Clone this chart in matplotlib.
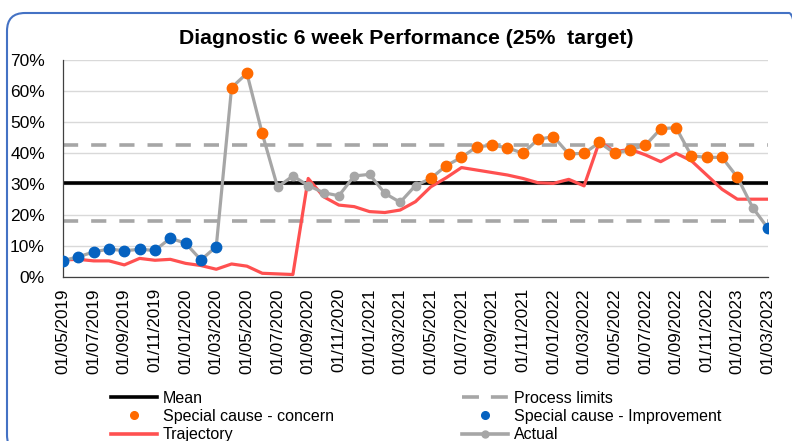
import matplotlib
matplotlib.use('Agg')
import matplotlib.pyplot as plt
import matplotlib.patches as mpatches
from matplotlib.transforms import IdentityTransform
from matplotlib.lines import Line2D
import numpy as np
import pandas as pd

plt.rcParams['font.family'] = ['Liberation Sans', 'DejaVu Sans']

# 月次データ (01/05/2019 - 01/03/2023)
months = pd.date_range('2019-05-01', periods=47, freq='MS')
month_labels = [d.strftime('%d/%m/%Y') for d in months]

# 実績 (%)
actual = [5.3, 6.5, 8.1, 9.0, 8.5, 8.9, 8.6, 12.5, 10.9, 5.5, 9.8, 61.1, 65.7, 46.3,
          29.0, 32.6, 29.5, 27.2, 26.2, 32.6, 33.1, 27.0, 24.1, 29.5, 31.8, 35.9,
          38.6, 42.0, 42.5, 41.7, 39.9, 44.4, 45.3, 39.7, 39.9, 43.4, 39.9, 41.0,
          42.5, 47.8, 48.2, 39.1, 38.6, 38.6, 32.2, 22.4, 15.7]

# 軌道 (%)
trajectory = [5.5, 5.7, 5.2, 5.2, 3.9, 6.0, 5.4, 5.7, 4.4, 3.7, 2.5, 4.2, 3.5, 1.2,
              1.0, 0.8, 31.8, 25.9, 23.2, 22.7, 21.1, 20.8, 21.6, 24.3, 29.1, 32.0,
              35.3, 34.5, 33.7, 32.9, 31.8, 30.4, 30.2, 31.5, 29.4, 43.7, 40.4, 41.2,
              39.4, 37.2, 39.9, 37.5, 32.9, 28.3, 25.1, 25.1, 25.1]

# 特別原因 ('imp' = improvement, 'con' = concern, '' = なし)
signal = ['imp'] * 11 + ['con'] * 3 + [''] * 10 + ['con'] * 21 + ['', 'imp']

mean_value = 30.2
upper_limit = 42.5
lower_limit = 18.1

GREY = '#A6A6A6'
ORANGE = '#FF6A00'
BLUE = '#0562C0'
RED = '#FF5050'

fig = plt.figure(figsize=(7.92, 4.41), dpi=100)
ax = fig.add_axes([63 / 792, 1 - 277 / 441, 705 / 792, 217 / 441])

x = np.arange(len(actual))
act = np.array(actual)
sig = np.array(signal)
concern = np.where(sig == 'con', act, np.nan)
improvement = np.where(sig == 'imp', act, np.nan)

# 平均・管理限界
ax.axhline(mean_value, color='black', lw=2.6, zorder=2)
for lim in (upper_limit, lower_limit):
    ax.axhline(lim, color=GREY, lw=2.6, dashes=(4.2, 3.6), zorder=2)

# 軌道
ax.plot(x, trajectory, color=RED, lw=2.3, zorder=3)
# 実績
ax.plot(x, actual, color=GREY, lw=2.3, marker='o', markersize=6, zorder=4)
# 特別原因
ax.plot(x, concern, ls='none', marker='o', markersize=7.5, color=ORANGE, zorder=5)
ax.plot(x, improvement, ls='none', marker='o', markersize=7.5, color=BLUE, zorder=5)

ax.set_xlim(0, len(actual) - 1)
ax.set_ylim(0, 70)
ax.set_yticks(range(0, 71, 10))
ax.set_yticklabels([f'{v}%' for v in range(0, 71, 10)])
ax.set_xticks(x[::2])
ax.set_xticklabels(month_labels[::2], rotation=90)
ax.tick_params(axis='y', length=0, pad=13, labelsize=12.5, colors='#000000')
ax.tick_params(axis='x', length=0, pad=8, labelsize=12.3)
ax.grid(axis='y', color='#D9D9D9', lw=1)
ax.set_axisbelow(True)
for s in ('top', 'right'):
    ax.spines[s].set_visible(False)
ax.spines['left'].set_color('#404040')
ax.spines['bottom'].set_color('#404040')
ax.spines['left'].set_linewidth(0.9)
ax.spines['bottom'].set_linewidth(0.9)

# タイトル
fig.text(406 / 792, 1 - 39 / 441, 'Diagnostic 6 week Performance (25%  target)',
         ha='center', va='center', fontsize=15.3, fontweight='bold')

# 凡例
handles = [
    Line2D([], [], color='black', lw=2.6),
    Line2D([], [], ls='none', marker='o', markersize=5.5, color=ORANGE),
    Line2D([], [], color=RED, lw=2.6),
    Line2D([], [], color=GREY, lw=2.6, dashes=(4.7, 3.3)),
    Line2D([], [], ls='none', marker='o', markersize=5.5, color=BLUE),
    Line2D([], [], color=GREY, lw=2.6, marker='o', markersize=5),
]
labels = ['Mean', 'Special cause - concern', 'Trajectory',
          'Process limits', 'Special cause - Improvement', 'Actual']
fig.legend(handles, labels, ncol=2, loc='center',
           bbox_to_anchor=(416 / 792, 1 - 416.5 / 441), frameon=False,
           fontsize=11.5, handlelength=2.9, handletextpad=0.35,
           columnspacing=8.0, labelspacing=0.2, borderpad=0, numpoints=1)

# 外枠
frame = mpatches.FancyBboxPatch((7, -12), 800, 441 - 13 + 12,
                                boxstyle='round,pad=0,rounding_size=18',
                                transform=IdentityTransform(), fill=False,
                                edgecolor='#4472C4', lw=1.5)
fig.patches.append(frame)

fig.savefig('out.png', dpi=100)
